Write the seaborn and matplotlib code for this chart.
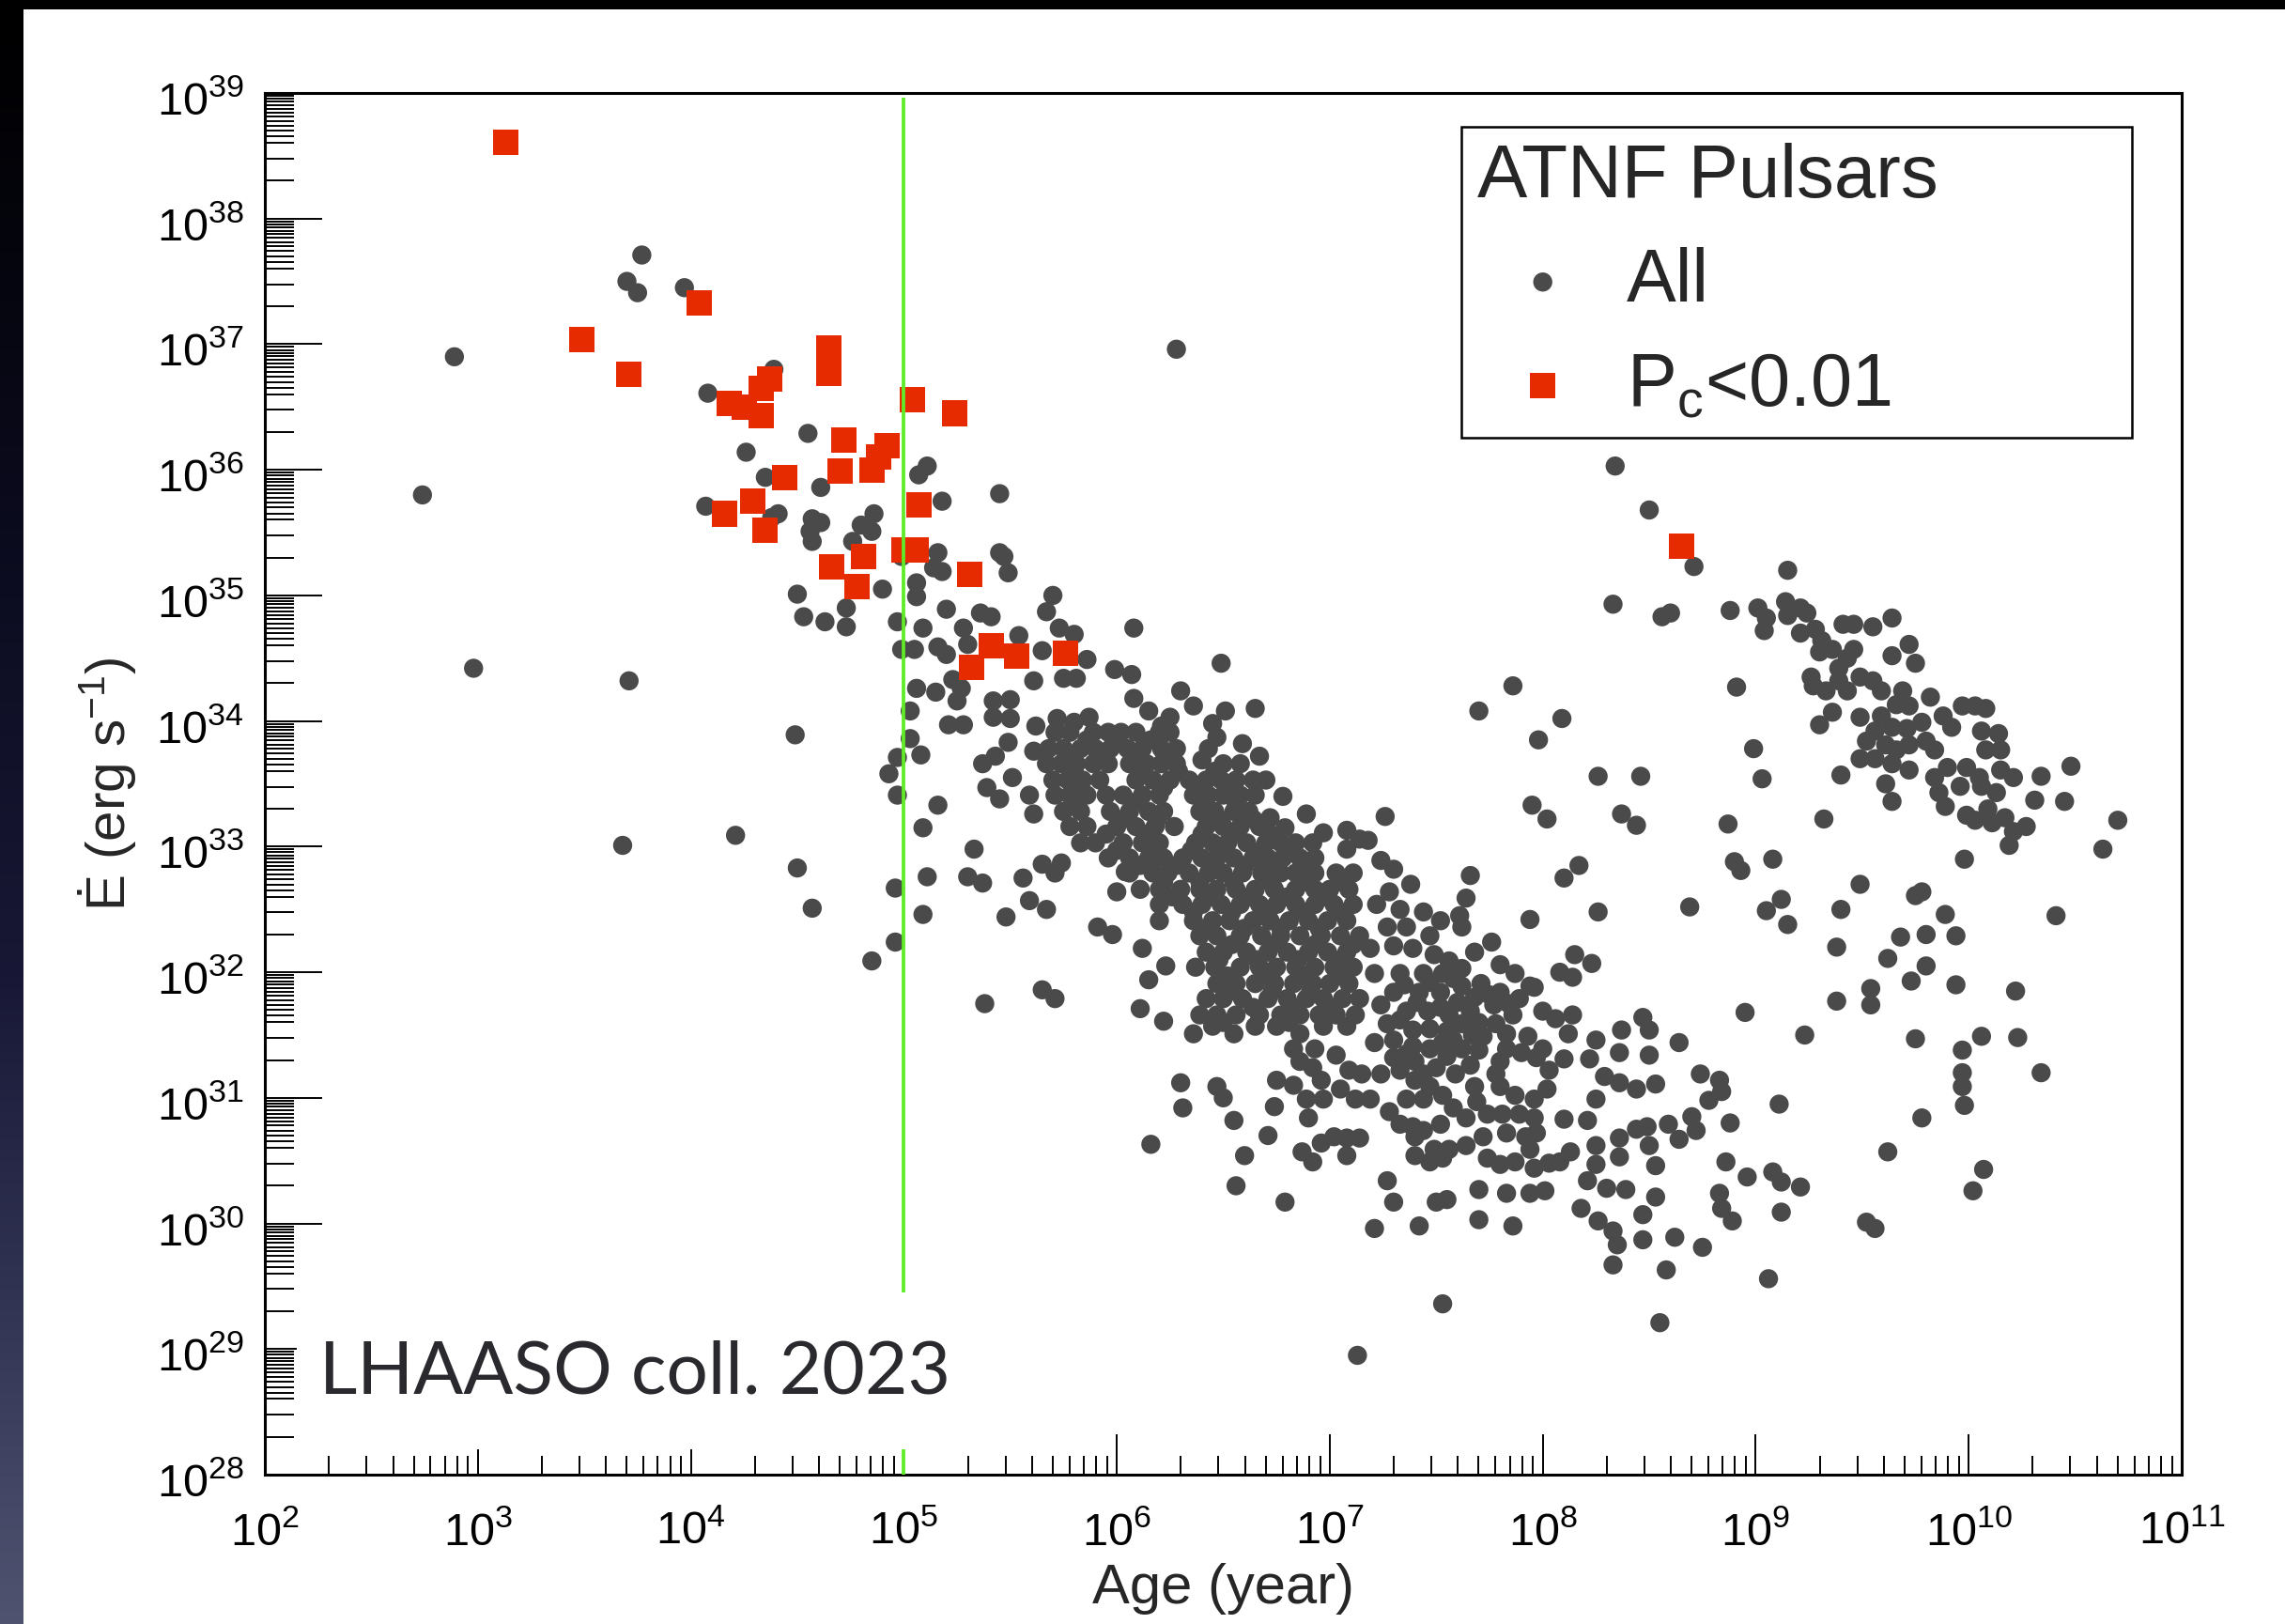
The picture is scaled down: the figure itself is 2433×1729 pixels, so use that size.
import numpy as np
import pandas as pd
import matplotlib
matplotlib.use("Agg")
import matplotlib.pyplot as plt
import matplotlib.transforms as mtransforms
from matplotlib.ticker import LogLocator, FixedLocator, FuncFormatter, NullFormatter
from matplotlib.patches import Rectangle
import seaborn as sns

# ---------------------------------------------------------------------------
# ATNF pulsars: log10(characteristic age / yr), log10(Edot / erg s^-1)
# ---------------------------------------------------------------------------
# pulsars with chance coincidence probability P_c < 0.01
pc_log_age = [3.13, 3.49, 3.71, 4.04, 4.65, 4.65, 4.37, 4.33, 4.18, 4.25, 4.33, 5.04,
              5.24, 4.72, 4.92, 4.88, 4.85, 4.70, 4.44, 4.29, 4.16, 4.35, 5.07, 5.06,
              5.00, 4.81, 4.66, 4.78, 5.31, 5.41, 5.32, 5.53, 5.76, 8.65]
pc_log_edot = [38.61, 37.04, 36.76, 37.33, 36.97, 36.77, 36.72, 36.65, 36.53, 36.50, 36.43, 36.56,
               36.45, 36.24, 36.19, 36.10, 36.00, 35.99, 35.94, 35.75, 35.65, 35.52, 35.72, 35.36,
               35.36, 35.31, 35.23, 35.07, 35.17, 34.60, 34.43, 34.52, 34.54, 35.39]

# young, energetic pulsars
young = [(2.74, 35.80), (2.89, 36.90), (2.98, 34.42), (3.71, 34.32), (3.68, 33.01), (4.21, 33.09),
         (4.49, 33.89), (4.50, 32.83), (4.57, 32.51), (4.85, 32.09), (4.93, 33.58),
         (3.77, 37.71), (3.70, 37.50), (3.75, 37.41), (3.97, 37.45), (4.08, 36.61), (4.39, 36.80),
         (4.55, 36.29), (4.26, 36.14), (4.35, 35.94), (4.61, 35.86), (4.07, 35.71), (4.41, 35.65),
         (4.38, 35.62), (4.57, 35.61), (4.61, 35.58), (4.56, 35.51), (4.57, 35.43), (4.86, 35.65),
         (4.80, 35.56), (4.85, 35.51), (4.76, 35.43), (5.11, 36.03), (5.07, 35.96), (5.18, 35.75),
         (5.45, 35.81), (5.45, 35.34), (5.47, 35.31), (4.99, 35.31), (5.16, 35.34), (4.50, 35.01),
         (4.90, 35.05), (4.73, 34.90), (4.53, 34.83), (4.63, 34.79), (4.73, 34.75), (6.28, 36.96)]

# intermediate-age pulsars, upper edge of the main population
middle = [(5.18, 35.19), (5.14, 35.22), (5.49, 35.18), (5.06, 35.10), (5.06, 34.99), (5.20, 34.89),
          (5.36, 34.86), (5.41, 34.83), (5.70, 35.00), (5.67, 34.87), (4.97, 34.79), (5.09, 34.74),
          (5.28, 34.74), (5.73, 34.74), (5.80, 34.69), (6.08, 34.74), (5.54, 34.68), (5.30, 34.61),
          (5.16, 34.59), (5.20, 34.53), (4.99, 34.57), (5.05, 34.57), (5.65, 34.56), (5.86, 34.49),
          (6.49, 34.46), (5.99, 34.41), (6.07, 34.37), (5.23, 34.33), (5.61, 34.32), (5.75, 34.34),
          (5.81, 34.34), (5.06, 34.26), (5.15, 34.23), (5.27, 34.26), (5.25, 34.16), (5.42, 34.16),
          (5.50, 34.17), (6.08, 34.18), (6.30, 34.24), (6.36, 34.12), (6.51, 34.08), (6.65, 34.10),
          (6.15, 34.08), (5.03, 34.08), (5.42, 34.03), (5.50, 34.02), (5.21, 33.97), (5.28, 33.97),
          (5.62, 33.96), (5.72, 34.02), (5.80, 33.99), (5.87, 34.03), (6.25, 34.03), (6.21, 33.96),
          (6.45, 33.98), (5.03, 33.86), (5.08, 33.73), (4.97, 33.71), (5.49, 33.83), (5.37, 33.66),
          (5.43, 33.72), (5.61, 33.76), (6.59, 33.82), (6.67, 33.72), (6.40, 33.69), (6.47, 33.87),
          (6.43, 33.78), (5.51, 33.55), (5.39, 33.47), (5.45, 33.38), (5.59, 33.41), (5.61, 33.26),
          (5.16, 33.33), (4.97, 33.41), (5.09, 33.15), (5.33, 32.98), (5.11, 32.76), (5.30, 32.76),
          (5.37, 32.71), (5.56, 32.75), (5.65, 32.86), (5.74, 32.87), (5.71, 32.79), (4.96, 32.67),
          (5.09, 32.46), (5.48, 32.44), (5.59, 32.57), (5.67, 32.50), (5.91, 32.36), (5.98, 32.30),
          (4.96, 32.24), (6.12, 32.19), (6.23, 32.05), (6.15, 31.94), (5.38, 31.75), (5.65, 31.86),
          (5.71, 31.79), (6.11, 31.71), (6.22, 31.61), (6.00, 32.64), (6.04, 32.80), (6.78, 33.40),
          (6.89, 33.26), (6.97, 33.11), (7.08, 33.13), (7.08, 32.98), (6.72, 33.23), (6.79, 33.15),
          (7.14, 33.06)]

# densest part of the normal-pulsar population, listed row by row (log Edot, log ages)
core_rows = [
    (33.91, [5.71, 5.78, 5.89, 5.96, 6.02, 6.09, 6.20, 6.25]),
    (33.85, [5.86, 6.00, 6.16]),
    (33.78, [5.68, 5.75, 5.83, 5.90, 5.97, 6.05, 6.12, 6.21, 6.28]),
    (33.72, [5.79, 5.93, 6.10, 6.25]),
    (33.66, [5.67, 5.74, 5.81, 5.89, 5.96, 6.06, 6.14, 6.21, 6.28, 6.50, 6.58]),
    (33.60, [5.80, 6.12, 6.29, 6.46]),
    (33.53, [5.70, 5.77, 5.84, 5.92, 6.09, 6.17, 6.25, 6.34, 6.42, 6.49, 6.56, 6.64, 6.70]),
    (33.47, [5.81, 6.22, 6.39, 6.53]),
    (33.41, [5.71, 5.78, 5.86, 5.95, 6.03, 6.12, 6.20, 6.36, 6.43, 6.50, 6.58, 6.65]),
    (33.35, [5.81, 6.08, 6.41, 6.56]),
    (33.28, [5.75, 5.83, 5.97, 6.06, 6.15, 6.22, 6.39, 6.46, 6.55, 6.62]),
    (33.22, [6.03, 6.19, 6.48, 6.64]),
    (33.16, [5.78, 5.86, 6.00, 6.09, 6.18, 6.27, 6.42, 6.50, 6.58, 6.67]),
    (33.10, [5.95, 6.14, 6.40, 6.55, 6.72]),
    (33.03, [5.83, 5.90, 6.03, 6.12, 6.20, 6.37, 6.45, 6.52, 6.61, 6.70, 6.77, 6.84, 6.92]),
    (32.97, [6.00, 6.18, 6.35, 6.51, 6.68, 6.82]),
    (32.91, [5.96, 6.06, 6.15, 6.22, 6.31, 6.40, 6.47, 6.55, 6.64, 6.71, 6.78, 6.86, 6.93]),
    (32.85, [6.11, 6.28, 6.44, 6.60, 6.75, 6.90]),
    (32.79, [6.06, 6.17, 6.24, 6.34, 6.43, 6.50, 6.59, 6.68, 6.77, 6.84, 6.93, 7.03, 7.11]),
    (32.72, [6.22, 6.39, 6.55, 6.72, 6.88, 7.05]),
    (32.66, [6.11, 6.20, 6.30, 6.39, 6.47, 6.56, 6.65, 6.74, 6.84, 6.93, 7.00, 7.09]),
    (32.60, [6.26, 6.44, 6.62, 6.80, 6.97]),
    (32.54, [6.20, 6.31, 6.40, 6.49, 6.58, 6.67, 6.75, 6.84, 6.93, 7.02, 7.11]),
    (32.48, [6.36, 6.54, 6.71, 6.88, 7.05]),
    (32.41, [6.20, 6.36, 6.45, 6.53, 6.64, 6.72, 6.81, 6.90, 6.99, 7.08]),
    (32.35, [6.42, 6.60, 6.77, 6.95]),
    (32.29, [6.39, 6.47, 6.58, 6.68, 6.77, 6.86, 6.96, 7.05, 7.14]),
    (32.22, [6.54, 6.73, 6.93, 7.11]),
    (32.16, [6.42, 6.50, 6.61, 6.71, 6.80, 6.90, 6.99, 7.08]),
    (32.10, [6.48, 6.66, 6.85, 7.05]),
    (32.04, [6.37, 6.46, 6.58, 6.67, 6.75, 6.84, 6.93, 7.02, 7.11]),
    (31.97, [6.52, 6.70, 6.88, 7.05]),
    (31.91, [6.47, 6.56, 6.65, 6.74, 6.83, 6.92, 7.00, 7.09]),
    (31.85, [6.54, 6.73, 6.91]),
    (31.79, [6.42, 6.50, 6.59, 6.71, 6.80, 6.89, 6.97, 7.06, 7.14]),
    (31.72, [6.64, 6.83, 7.01]),
    (31.66, [6.39, 6.47, 6.56, 6.67, 6.77, 6.86, 6.95, 7.03, 7.12]),
    (31.60, [6.50, 6.81]),
    (31.57, [6.45, 6.65, 6.75, 6.97, 7.08]),
    (31.51, [6.36, 6.55, 6.86]),
]

# older normal pulsars
old = [(7.95, 33.33), (8.02, 33.22), (8.37, 33.26), (8.44, 33.17), (7.26, 33.24), (7.18, 33.05),
       (8.17, 32.85), (8.10, 32.75), (8.26, 32.48), (7.94, 32.42), (7.66, 32.77), (7.64, 32.59),
       (7.61, 32.45), (7.62, 32.36), (7.76, 32.24), (8.15, 32.14), (8.08, 32.00), (8.23, 32.07),
       (8.14, 31.96), (7.96, 31.88), (8.00, 31.69), (8.06, 31.63), (8.14, 31.66), (8.12, 31.51),
       (8.37, 31.54), (8.47, 31.64), (8.25, 31.46), (8.10, 31.31), (8.22, 31.31), (8.36, 31.36),
       (8.29, 31.17), (8.36, 31.12), (8.44, 31.07), (8.25, 30.99), (8.21, 30.82), (8.10, 30.83),
       (8.44, 30.75), (8.36, 30.68), (8.25, 30.62), (8.36, 30.53), (8.13, 30.57), (8.08, 30.49),
       (8.03, 30.48), (8.25, 30.47), (8.21, 30.34), (8.30, 30.28), (8.39, 30.27), (8.18, 30.12),
       (8.26, 30.02), (8.33, 29.94), (8.35, 29.83), (8.33, 29.67), (8.47, 29.87), (8.47, 30.07),
       (7.24, 32.89), (7.30, 32.82), (7.38, 32.70), (7.28, 32.64), (7.22, 32.54), (7.33, 32.50),
       (7.44, 32.48), (7.52, 32.41), (7.36, 32.36), (7.27, 32.36), (7.47, 32.29), (7.19, 32.19),
       (7.30, 32.21), (7.39, 32.19), (7.49, 32.14), (7.56, 32.09), (7.68, 32.16), (7.80, 32.06),
       (7.87, 31.99), (7.62, 32.03), (7.53, 31.99), (7.44, 31.99), (7.33, 31.99), (7.21, 31.99),
       (7.30, 31.84), (7.42, 31.84), (7.52, 31.84), (7.62, 31.89), (7.71, 31.91), (7.80, 31.84),
       (7.89, 31.79), (7.94, 31.89), (7.24, 31.74), (7.36, 31.69), (7.46, 31.69), (7.56, 31.66),
       (7.66, 31.69), (7.77, 31.74), (7.86, 31.66), (7.78, 31.59), (7.27, 31.59), (7.39, 31.54),
       (7.47, 31.55), (7.62, 31.59), (7.21, 31.44), (7.30, 31.46), (7.39, 31.41), (7.47, 31.39),
       (7.58, 31.46), (7.72, 31.49), (7.83, 31.51), (7.93, 31.49), (8.00, 31.39), (7.80, 31.29),
       (7.83, 31.39), (7.90, 31.36), (7.97, 31.32), (8.03, 31.22), (8.02, 31.07), (7.96, 30.99),
       (7.87, 31.02), (7.80, 31.09), (7.78, 31.19), (6.30, 31.12), (6.31, 30.92), (6.47, 31.09),
       (6.50, 31.00), (6.55, 30.82), (6.71, 30.70), (6.60, 30.54), (6.56, 30.30), (6.79, 30.17),
       (6.74, 30.93), (6.75, 31.14), (6.83, 31.10), (6.92, 31.24), (6.96, 31.14), (6.86, 31.29),
       (6.83, 31.39), (6.93, 31.39), (7.03, 31.34), (7.09, 31.22), (7.15, 31.19), (7.12, 30.99),
       (7.19, 30.99), (7.05, 31.07), (6.97, 30.99), (6.89, 30.99), (6.90, 30.84), (6.87, 30.57),
       (6.92, 30.49), (6.96, 30.64), (7.02, 30.69), (7.08, 30.68), (7.14, 30.68), (7.08, 30.54),
       (7.28, 30.89), (7.33, 30.79), (7.39, 30.77), (7.40, 30.69), (7.44, 30.74), (7.52, 30.79),
       (7.58, 30.92), (7.64, 30.84), (7.69, 30.97), (7.74, 30.87), (7.81, 30.87), (7.89, 30.87),
       (7.96, 30.84), (7.97, 30.72), (7.92, 30.69), (7.83, 30.72), (7.72, 30.69), (7.64, 30.62),
       (7.56, 30.59), (7.49, 30.59), (7.40, 30.54), (7.47, 30.49), (7.53, 30.52), (7.74, 30.52),
       (7.80, 30.47), (7.87, 30.49), (7.96, 30.44), (7.94, 30.59), (7.27, 30.34), (7.30, 30.17),
       (7.50, 30.17), (7.55, 30.19), (7.21, 29.96), (7.42, 29.98), (7.70, 30.27), (7.83, 30.24),
       (7.94, 30.24), (8.01, 30.26), (7.70, 30.03), (7.86, 29.98), (7.53, 31.02), (7.47, 31.09),
       (7.40, 31.14), (7.33, 31.22), (7.24, 31.19), (7.30, 31.32), (7.40, 31.29), (7.50, 31.24),
       (7.59, 31.19), (7.66, 31.26), (7.62, 31.39), (7.53, 31.44), (7.44, 31.19), (7.36, 30.99),
       (7.44, 30.99), (7.68, 31.09), (7.13, 28.95), (6.16, 30.63), (7.53, 29.36),
       (7.35, 31.90), (7.47, 31.92), (7.58, 31.95), (7.68, 31.80), (7.75, 31.82), (7.84, 31.75),
       (7.41, 31.76), (7.52, 31.72), (7.60, 31.76), (7.70, 31.60), (7.33, 31.62), (7.55, 31.53),
       (7.67, 31.50), (7.36, 31.35), (7.55, 31.33), (7.70, 31.38)]

# oldest and most weakly spinning-down pulsars
oldest = [(8.50, 31.54), (8.50, 31.34), (8.53, 31.11), (8.64, 31.44), (8.74, 31.19), (8.83, 31.14),
          (8.84, 31.05), (8.78, 30.98), (8.95, 31.68), (9.38, 31.77), (9.54, 31.74), (9.54, 31.87),
          (9.23, 31.50), (9.11, 30.95), (8.88, 30.80), (8.70, 30.85), (8.72, 30.74), (8.64, 30.67),
          (8.59, 30.79), (8.49, 30.77), (8.50, 30.62), (8.53, 30.46), (8.86, 30.49), (8.96, 30.37),
          (9.08, 30.41), (9.12, 30.33), (9.21, 30.29), (8.83, 30.24), (8.84, 30.12), (8.89, 30.02),
          (9.12, 30.09), (9.52, 30.01), (9.56, 29.96), (8.53, 30.21), (8.62, 29.89), (8.75, 29.81),
          (8.58, 29.63), (9.06, 29.56), (8.55, 29.21),
          (8.34, 36.03), (8.50, 35.68), (8.71, 35.23), (8.33, 34.93), (8.56, 34.83), (8.60, 34.86),
          (7.86, 34.28), (7.70, 34.08), (8.09, 34.02), (7.98, 33.85), (8.26, 33.56), (8.46, 33.56)]

# millisecond pulsars
msp = [(9.15, 35.20), (8.88, 34.88), (9.01, 34.90), (9.05, 34.82), (9.04, 34.72), (9.14, 34.95),
       (9.15, 34.84), (9.21, 34.90), (9.24, 34.86), (9.21, 34.70), (9.28, 34.73), (9.31, 34.64),
       (9.36, 34.57), (9.30, 34.55), (9.41, 34.77), (9.46, 34.77), (9.55, 34.75), (9.64, 34.82),
       (9.72, 34.61), (9.75, 34.46), (9.64, 34.52), (9.46, 34.57), (9.43, 34.50), (9.39, 34.42),
       (9.26, 34.35), (9.27, 34.28), (9.33, 34.24), (9.39, 34.32), (9.43, 34.24), (9.49, 34.35),
       (9.55, 34.32), (9.59, 34.24), (9.69, 34.24), (9.82, 34.19), (9.66, 34.13), (9.72, 34.12),
       (9.59, 34.04), (9.49, 34.03), (9.36, 34.07), (9.30, 33.97), (9.56, 33.92), (9.64, 33.95),
       (9.71, 33.94), (9.78, 33.99), (9.88, 34.04), (9.92, 33.95), (9.97, 34.12), (10.03, 34.12),
       (10.08, 34.10), (10.06, 33.92), (10.14, 33.90), (10.08, 33.77), (10.15, 33.77), (9.52, 33.84),
       (9.61, 33.81), (9.66, 33.77), (9.72, 33.81), (9.80, 33.84), (9.84, 33.77), (9.49, 33.70),
       (9.56, 33.70), (9.64, 33.66), (9.72, 33.61), (9.84, 33.55), (9.90, 33.63), (9.99, 33.63),
       (10.05, 33.55), (10.15, 33.61), (10.21, 33.55), (10.34, 33.56), (10.48, 33.64), (9.61, 33.50),
       (9.64, 33.36), (9.40, 33.57), (9.86, 33.43), (9.96, 33.48), (10.06, 33.48), (10.13, 33.43),
       (10.31, 33.37), (10.45, 33.36), (9.89, 33.32), (9.99, 33.25), (10.03, 33.21), (10.09, 33.30),
       (10.11, 33.19), (10.17, 33.23), (10.21, 33.12), (10.27, 33.16), (10.19, 33.01), (10.70, 33.21),
       (10.63, 32.98), (9.98, 32.90), (8.99, 33.78), (9.03, 33.54), (8.91, 34.27), (8.87, 33.18),
       (8.90, 32.88), (8.93, 32.81), (9.08, 32.90), (9.32, 33.22), (9.49, 32.70), (9.75, 32.61),
       (9.78, 32.64), (9.89, 32.46), (10.41, 32.45), (9.12, 32.58), (9.05, 32.49), (9.15, 32.38),
       (9.40, 32.50), (9.38, 32.20), (9.68, 32.28), (9.80, 32.30), (9.94, 32.29), (9.62, 32.11),
       (9.80, 32.05), (9.73, 31.93), (9.94, 31.90), (10.22, 31.85), (9.75, 31.47), (9.97, 31.38),
       (10.06, 31.49), (10.23, 31.48), (9.97, 31.20), (9.97, 31.09), (9.98, 30.94), (10.34, 31.20),
       (9.78, 30.84), (9.62, 30.57), (10.07, 30.43), (10.02, 30.26), (8.69, 32.52)]

# ---------------------------------------------------------------------------
core = [(a, e) for e, ages in core_rows for a in ages]
all_pairs = young + middle + core + old + oldest + msp
all_df = pd.DataFrame({
    "age": [10.0 ** a for a, _ in all_pairs],
    "edot": [10.0 ** e for _, e in all_pairs],
})
pc_df = pd.DataFrame({
    "age": [10.0 ** a for a in pc_log_age],
    "edot": [10.0 ** e for e in pc_log_edot],
})

x_decades = list(range(2, 12))
y_decades = list(range(28, 40))

# ---------------------------------------------------------------------------
sns.set_style("ticks")
plt.rcParams["font.family"] = ["Liberation Sans", "DejaVu Sans"]
plt.rcParams["mathtext.fontset"] = "custom"
plt.rcParams["mathtext.rm"] = "Liberation Sans"
plt.rcParams["mathtext.it"] = "Liberation Sans:italic"
plt.rcParams["mathtext.bf"] = "Liberation Sans:bold"
plt.rcParams["mathtext.default"] = "regular"

W, H = 2433, 1729
fig = plt.figure(figsize=(W / 100, H / 100), dpi=100, facecolor="white")

# slide border: black strip on top, dark blue gradient on the left
fig.add_artist(Rectangle((0, 1 - 10 / H), 1, 10 / H, transform=fig.transFigure,
                         facecolor="black", edgecolor="none", zorder=1))
strip = fig.add_axes([0, 0, 25 / W, 1 - 10 / H])
t = np.linspace(0, 1, 400)
stops = [0.0, 0.3, 0.6, 0.8, 1.0]
cols = np.array([[0, 0, 0], [10, 10, 28], [24, 24, 54], [50, 52, 84], [80, 83, 112]]) / 255
grad = np.stack([np.interp(t, stops, cols[:, k]) for k in range(3)], axis=-1)[:, None, :]
strip.imshow(grad, aspect="auto", extent=[0, 1, 0, 1], interpolation="bilinear")
strip.set_axis_off()

ax = fig.add_axes([282 / W, 1 - 1570 / H, (2323 - 282) / W, (1570 - 99) / H])
ax.set_xscale("log")
ax.set_yscale("log")

sns.scatterplot(data=all_df, x="age", y="edot", ax=ax, marker="o", s=215,
                color="#4a4a4a", linewidth=0, edgecolor="none", legend=False, zorder=2)
sc_all = ax.collections[-1]
sns.scatterplot(data=pc_df, x="age", y="edot", ax=ax, marker="s", s=380,
                color="#e62b00", linewidth=0, edgecolor="none", legend=False, zorder=2.1)
sc_pc = ax.collections[-1]

# age cut at 100 kyr
ax.vlines(1e5, 1e28, 10 ** 38.96, color="#5fec26", lw=2.7, zorder=2.8)

ax.set_xlim(10.0 ** x_decades[0], 10.0 ** x_decades[-1])
ax.set_ylim(10.0 ** y_decades[0], 10.0 ** y_decades[-1])

fmt = FuncFormatter(lambda v, p: r"$10^{%d}$" % int(round(np.log10(v))))
ax.xaxis.set_major_locator(FixedLocator([10.0 ** d for d in x_decades]))
ax.xaxis.set_minor_locator(LogLocator(base=10, subs=np.arange(2, 10), numticks=100))
ax.yaxis.set_major_locator(FixedLocator([10.0 ** d for d in y_decades]))
ax.yaxis.set_minor_locator(LogLocator(base=10, subs=[2, 3, 4, 4.5, 5, 5.5, 6, 6.5, 7, 7.5,
                                                     8, 8.5, 9, 9.5], numticks=200))
ax.xaxis.set_major_formatter(fmt)
ax.yaxis.set_major_formatter(fmt)
ax.xaxis.set_minor_formatter(NullFormatter())
ax.yaxis.set_minor_formatter(NullFormatter())

ax.tick_params(which="both", direction="in", top=False, right=False, color="black",
               labelcolor="black")
ax.tick_params(axis="x", which="major", length=31, width=1.4, pad=28, labelsize=35)
ax.tick_params(axis="x", which="minor", length=14.5, width=1.4)
ax.tick_params(axis="y", which="major", length=44, width=1.4, pad=16, labelsize=35)
ax.tick_params(axis="y", which="minor", length=22, width=1.4)
for sp in ax.spines.values():
    sp.set_linewidth(2.2)
    sp.set_color("black")

# y tick labels sit slightly below their ticks
shift = mtransforms.ScaledTranslation(0, -5 / 100, fig.dpi_scale_trans)
for lab in ax.yaxis.get_majorticklabels():
    lab.set_transform(lab.get_transform() + shift)

ax.set_xlabel("Age (year)", fontsize=43)
ax.xaxis.set_label_coords(0.5, -0.064)
ax.set_ylabel("Ė (erg s$^{-1}$)", fontsize=42)
ax.yaxis.set_label_coords(-0.066, 0.5)

leg = ax.legend([sc_all, sc_pc], ["All", "P$_{c}$<0.01"], title="ATNF Pulsars",
                loc="upper left", mode="expand",
                bbox_to_anchor=(1556 / W, 1 - 467 / H, (2270 - 1556) / W, (467 - 135) / H),
                bbox_transform=fig.transFigure, borderaxespad=0,
                fontsize=57, title_fontsize=57.5, alignment="left",
                frameon=True, fancybox=False, shadow=False, framealpha=1,
                edgecolor="black", borderpad=0.22, labelspacing=0.45,
                handlelength=1.75, handletextpad=0.25, scatterpoints=1)
leg.get_frame().set_linewidth(1.8)

# credit line on a white panel
fig.add_artist(Rectangle((316 / W, 1 - 1543 / H), (1030 - 316) / W, (1543 - 1376) / H,
                         transform=fig.transFigure, facecolor="white", edgecolor="none",
                         zorder=3))
fig.text(340 / W, 1 - 1483 / H, "LHAASO coll. 2023", fontsize=56.5,
         family=["Lato", "DejaVu Sans"], color="#2a2a2e", ha="left", va="baseline", zorder=4)

fig.savefig("out.png", dpi=100, facecolor="white")
